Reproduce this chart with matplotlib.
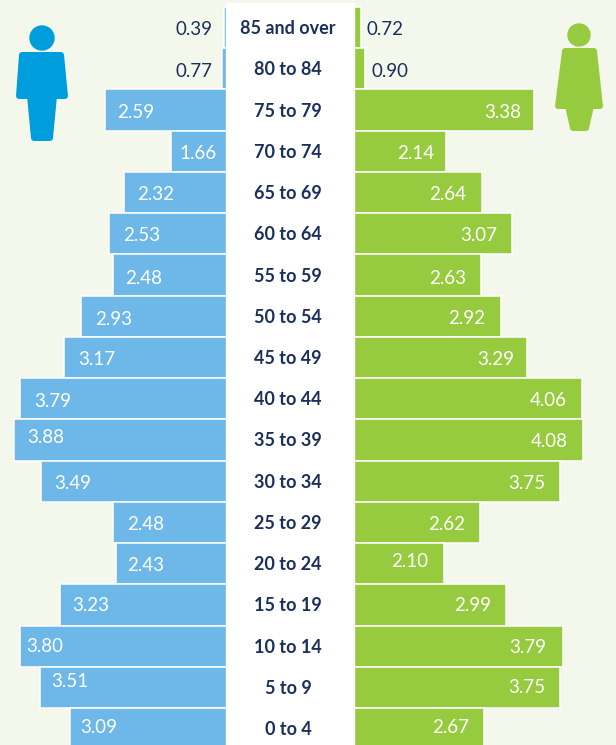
# Population pyramid by age group, men on the left, women on the right
import numpy as np
import matplotlib.pyplot as plt
from matplotlib.patches import Circle, Polygon, Rectangle
from matplotlib.transforms import Affine2D

ages = ['85 and over', '80 to 84', '75 to 79', '70 to 74', '65 to 69', '60 to 64',
        '55 to 59', '50 to 54', '45 to 49', '40 to 44', '35 to 39', '30 to 34',
        '25 to 29', '20 to 24', '15 to 19', '10 to 14', '5 to 9', '0 to 4']
men = [0.39, 0.77, 2.59, 1.66, 2.32, 2.53, 2.48, 2.93, 3.17,
       3.79, 3.88, 3.49, 2.48, 2.43, 3.23, 3.80, 3.51, 3.09]
women = [0.72, 0.90, 3.38, 2.14, 2.64, 3.07, 2.63, 2.92, 3.29,
         4.06, 4.08, 3.75, 2.62, 2.10, 2.99, 3.79, 3.75, 2.67]

# label nudges in pixels, the original placed these by hand
men_dx = [-11, -10, 12, 9, 13, 14, 12, 14, 14, 14, 13, 13, 14, 11, 12, 7, 11, 11]
men_dy = [0, 1, 0, 0, 0, 0, 1, 1, 0, 1, -4, 0, 0, 0, -1, -2, -8, -3]
women_dx = [6, 6, -13, -12, -15, -15, -15, -16, -13, -15, -15, -15, -15, -15, -15, -16, -15, -15]
women_dy = [0, 1, 0, 0, 0, 0, 1, 0, 0, 0, 0, 0, 0, -4, -1, -1, -2, -3]

BG = '#F4F8EC'
BLUE = '#6DB8E8'
GREEN = '#97CB3F'
ICON_BLUE = '#009DDC'
NAVY = '#1B2F5B'

# the two small top bars are squeezed in the original, so the axis is piecewise
knot_v = np.array([0, 0.05, 0.39, 0.77, 0.90, 1.66, 5.0])
knot_p = np.array([0, 64, 68, 69.5, 73.5, 121, 356.5])

def forward(v):
    v = np.asarray(v, dtype=float)
    return np.sign(v) * np.interp(np.abs(v), knot_v, knot_p)

def inverse(p):
    p = np.asarray(p, dtype=float)
    return np.sign(p) * np.interp(np.abs(p), knot_p, knot_v)

fig = plt.figure(figsize=(6.16, 7.45), dpi=100, facecolor=BG)
ax = fig.add_axes([0, 0, 1, 1])
ax.set_xscale('function', functions=(forward, inverse))
ax.set_xlim(inverse(-291.5), inverse(324.5))
ax.set_ylim(17.396, -0.669)
ax.axis('off')

y = np.arange(len(ages))
ax.barh(y, -np.array(men), height=1, color=BLUE, edgecolor='white', linewidth=1.1)
ax.barh(y, women, height=1, color=GREEN, edgecolor='white', linewidth=1.1)

# everything that is not data is placed in image pixels
px = Affine2D().scale(1, -1).translate(0, 745)
ax.add_patch(Rectangle((226, 3), 128, 745, transform=px, color='white', zorder=3, clip_on=False))

for i, age in enumerate(ages):
    ax.annotate(age, (0, i), xytext=(-3.5, -1), textcoords='offset pixels', ha='center', va='center',
                family='Lato', weight='bold', fontsize=13, color=NAVY, zorder=4)

    outside = men[i] < 1
    ax.annotate(f'{men[i]:.2f}', (-men[i], i), xytext=(men_dx[i], -men_dy[i] - 2), textcoords='offset pixels',
                ha='right' if outside else 'left', va='center', family='Lato', fontsize=13.5,
                color=NAVY if outside else 'white', zorder=4)
    outside = women[i] < 1
    ax.annotate(f'{women[i]:.2f}', (women[i], i), xytext=(women_dx[i], -women_dy[i] - 2), textcoords='offset pixels',
                ha='left' if outside else 'right', va='center', family='Lato', fontsize=13.5,
                color=NAVY if outside else 'white', zorder=4)

# person icons, thick round stroke gives the soft corners
man_body = [(22, 55), (61, 55), (65, 96), (54, 96), (50, 138), (34, 138), (30, 96), (19, 96)]
woman_body = [(565, 51), (594, 51), (600, 106), (591, 106), (586, 128), (573, 128), (568, 106), (558, 106)]
for body, head, r, col in [(man_body, (42, 38), 12, ICON_BLUE), (woman_body, (579, 35), 11, GREEN)]:
    ax.add_patch(Polygon(body, closed=True, transform=px, facecolor=col, edgecolor=col,
                         linewidth=4.3, joinstyle='round', zorder=4))
    ax.add_patch(Circle(head, r, transform=px, color=col, zorder=4))

fig.savefig('out.png', dpi=100, facecolor=BG)
